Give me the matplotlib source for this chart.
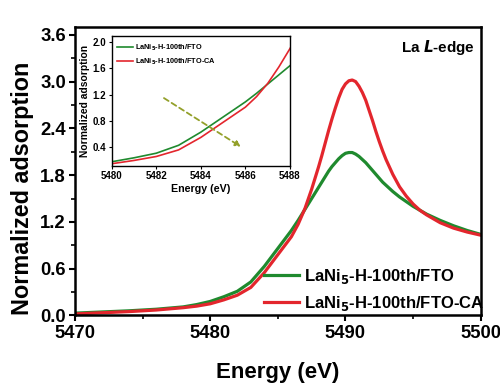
import matplotlib
matplotlib.use("Agg")
import matplotlib.pyplot as plt
from matplotlib.ticker import MultipleLocator, FixedLocator, FormatStrFormatter

plt.rcParams['font.family'] = ['Liberation Sans', 'DejaVu Sans']
plt.rcParams['font.weight'] = 'bold'

energy = [5470, 5472, 5474, 5476, 5478, 5479, 5480, 5481, 5482, 5483, 5484, 5485,
          5486, 5486.5, 5487, 5487.5, 5488, 5488.25, 5488.5, 5488.75, 5489, 5489.25,
          5489.5, 5489.75, 5490, 5490.25, 5490.5, 5490.75, 5491, 5491.25, 5491.5,
          5491.75, 5492, 5492.25, 5492.5, 5492.75, 5493, 5493.5, 5494, 5494.5, 5495,
          5495.5, 5496, 5497, 5498, 5499, 5500]
fto = [0.03, 0.045, 0.06, 0.08, 0.11, 0.14, 0.18, 0.24, 0.31, 0.43, 0.63, 0.86,
       1.09, 1.22, 1.36, 1.50, 1.64, 1.71, 1.78, 1.85, 1.91, 1.96,
       2.01, 2.05, 2.08, 2.09, 2.09, 2.07, 2.04, 2.00, 1.96,
       1.91, 1.86, 1.81, 1.76, 1.71, 1.67, 1.59, 1.52, 1.46, 1.40,
       1.35, 1.30, 1.22, 1.15, 1.09, 1.04]
fto_ca = [0.02, 0.035, 0.05, 0.07, 0.10, 0.12, 0.15, 0.20, 0.26, 0.36, 0.55, 0.78,
          1.01, 1.17, 1.37, 1.62, 1.90, 2.05, 2.21, 2.37, 2.52, 2.66,
          2.79, 2.90, 2.97, 3.01, 3.02, 3.00, 2.94, 2.86, 2.76,
          2.63, 2.50, 2.36, 2.23, 2.11, 2.00, 1.81, 1.65, 1.53, 1.43,
          1.35, 1.29, 1.19, 1.12, 1.07, 1.03]

labels = ['LaNi$_\\mathbf{5}$-H-100th/FTO', 'LaNi$_\\mathbf{5}$-H-100th/FTO-CA']
green = '#1f8a2e'
red = '#e3262d'

fig = plt.figure(figsize=(5.0, 3.89), dpi=100)
ax = fig.add_axes([0.15, 0.189, 0.8114, 0.7416])
ax.plot(energy, fto, color=green, lw=2.3, label=labels[0])
ax.plot(energy, fto_ca, color=red, lw=2.3, label=labels[1])
ax.set_xlim(5470, 5500)
ax.set_ylim(0, 3.7)
ax.xaxis.set_major_locator(MultipleLocator(10))
ax.xaxis.set_minor_locator(MultipleLocator(5))
ax.yaxis.set_major_locator(FixedLocator([0.0, 0.6, 1.2, 1.8, 2.4, 3.0, 3.6]))
ax.yaxis.set_minor_locator(FixedLocator([0.3, 0.9, 1.5, 2.1, 2.7, 3.3]))
ax.yaxis.set_major_formatter(FormatStrFormatter('%.1f'))
for s in ax.spines.values():
    s.set_linewidth(1.8)
ax.tick_params(which='major', direction='out', length=4.5, width=1.5, labelsize=13.3, pad=2)
ax.tick_params(which='minor', direction='out', length=2.8, width=1.2)
for t in ax.get_xticklabels() + ax.get_yticklabels():
    t.set_fontweight('bold')
ax.set_xlabel('Energy (eV)', fontsize=16, fontweight='bold', labelpad=15)
ax.set_ylabel('Normalized adsorption', fontsize=16.8, fontweight='bold')
ax.yaxis.set_label_coords(-0.102, 0.44)
ax.text(0.985, 0.93, 'La $\\mathbfit{L}$-edge', transform=ax.transAxes, ha='right', va='center',
        fontsize=11, fontweight='bold')
leg = ax.legend(loc='lower right', bbox_to_anchor=(1.045, -0.042), frameon=False,
                fontsize=12, handlelength=2.1, handletextpad=0.3, labelspacing=0.45)
for t in leg.get_texts():
    t.set_fontweight('bold')

# inset
ins = fig.add_axes([0.2234, 0.574, 0.3566, 0.3334])
ins.plot(energy, fto, color=green, lw=1.2, label=labels[0])
ins.plot(energy, fto_ca, color=red, lw=1.2, label=labels[1])
ins.set_xlim(5480, 5488)
ins.set_ylim(0.12, 2.09)
ins.xaxis.set_major_locator(MultipleLocator(2))
ins.yaxis.set_major_locator(FixedLocator([0.4, 0.8, 1.2, 1.6, 2.0]))
ins.yaxis.set_major_formatter(FormatStrFormatter('%.1f'))
for s in ins.spines.values():
    s.set_linewidth(1.0)
ins.tick_params(direction='out', length=2.5, width=0.8, labelsize=7, pad=1.5)
for t in ins.get_xticklabels() + ins.get_yticklabels():
    t.set_fontweight('bold')
ins.set_xlabel('Energy (eV)', fontsize=7.7, fontweight='bold', labelpad=2)
ins.set_ylabel('Normalized adsorption', fontsize=7.4, fontweight='bold', labelpad=2)
ileg = ins.legend(loc='upper left', bbox_to_anchor=(-0.01, 1.0), frameon=False, fontsize=5.3,
                  handlelength=2.2, handletextpad=0.3, labelspacing=0.55)
for t in ileg.get_texts():
    t.set_fontweight('bold')
ins.annotate('', xy=(5485.9, 0.385), xytext=(5482.24, 1.17),
             arrowprops=dict(arrowstyle='-|>', linestyle=(0, (3, 2)), color='#93a02a',
                             lw=1.3, mutation_scale=8))

fig.savefig('out.png', dpi=100)
